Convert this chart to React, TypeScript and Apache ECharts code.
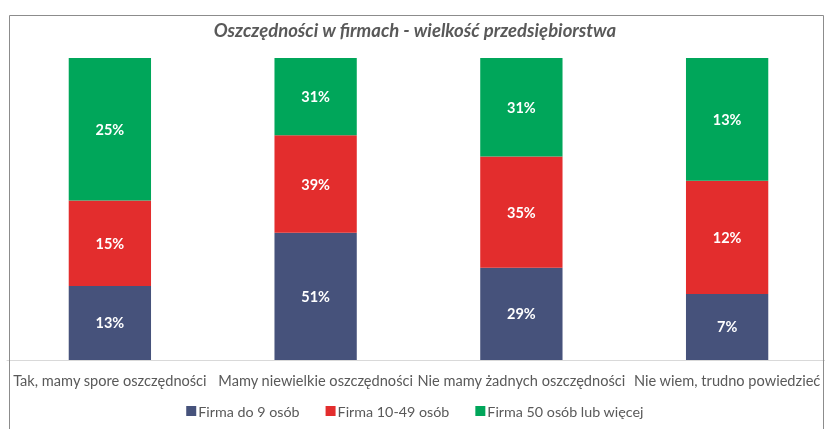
import React, { useEffect, useRef } from "react";
import * as echarts from "echarts";

const categories = [
  "Tak, mamy spore oszczędności",
  "Mamy niewielkie oszczędności",
  "Nie mamy żadnych oszczędności",
  "Nie wiem, trudno powiedzieć",
];
const seriesNames = ["Firma do 9 osób", "Firma 10-49 osób", "Firma 50 osób lub więcej"];
const small = [13, 51, 29, 7];
const medium = [15, 39, 35, 12];
const large = [25, 31, 31, 13];
const colors = ["#46527B", "#E32D2D", "#00A65A"];
const FONT = "Lato";

export default function App() {
  const ref = useRef<HTMLDivElement>(null);
  useEffect(() => {
    if (!ref.current) return;
    const chart = echarts.init(ref.current, null, { renderer: "svg" });
    const raw = [small, medium, large];
    const totals = categories.map((_, i) => small[i] + medium[i] + large[i]);
    const series = raw.map((arr, si) => ({
      name: seriesNames[si],
      type: "bar",
      stack: "total",
      barWidth: "40%",
      itemStyle: { color: colors[si] },
      label: {
        show: true,
        position: "inside",
        color: "#ffffff",
        fontFamily: FONT,
        fontWeight: "bold",
        fontSize: 14.5,
        formatter: (p: any) => `${arr[p.dataIndex]}%`,
      },
      data: arr.map((v, i) => (v / totals[i]) * 100),
    }));
    chart.setOption({
      animation: false,
      textStyle: { fontFamily: FONT },
      title: {
        text: "Oszczędności w firmach - wielkość przedsiębiorstwa",
        left: "center",
        top: 15,
        textStyle: {
          fontFamily: FONT,
          fontStyle: "italic",
          fontWeight: "bold",
          fontSize: 18.5,
          color: "#595959",
        },
      },
      legend: {
        bottom: 6,
        left: "center",
        itemWidth: 10,
        itemHeight: 10,
        itemGap: 26,
        icon: "rect",
        textStyle: { fontFamily: FONT, fontSize: 14.3, color: "#595959", padding: [0, 0, 0, -3] },
        data: seriesNames,
      },
      grid: { left: 7, top: 58, width: 828, height: 302, containLabel: false },
      xAxis: {
        type: "category",
        data: categories,
        axisLine: { lineStyle: { color: "#d9d9d9" } },
        axisTick: { show: false },
        axisLabel: {
          interval: 0,
          color: "#595959",
          fontFamily: FONT,
          fontSize: 14.6,
          margin: 13,
          hideOverlap: false,
        },
      },
      yAxis: { type: "value", min: 0, max: 100, show: false, splitLine: { show: false } },
      series,
      graphic: [
        { type: "rect", z: 100, shape: { x: 825, y: 0, width: 10, height: 429 }, style: { fill: "#ffffff" } },
        {
          type: "rect",
          z: 101,
          shape: { x: 9.5, y: 15.5, width: 814, height: 430 },
          style: { fill: "none", stroke: "#8c8c8c", lineWidth: 1 },
        },
      ],
    });
    return () => chart.dispose();
  }, []);
  return <div ref={ref} style={{ position: "fixed", left: 0, top: 0, width: 830, height: 429 }} />;
}
